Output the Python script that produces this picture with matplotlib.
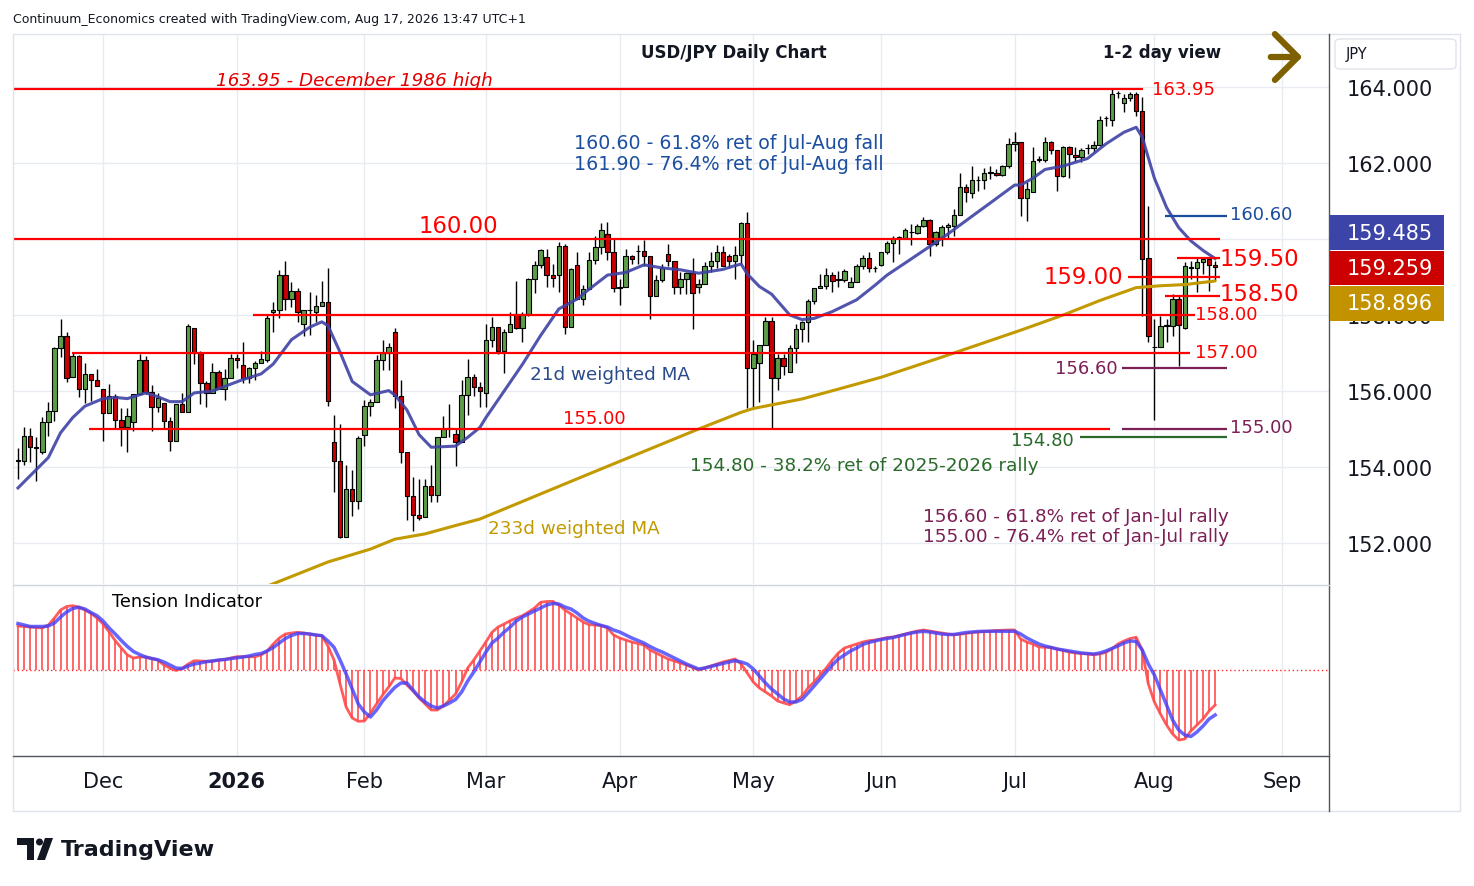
import numpy as np
import pandas as pd
import matplotlib
matplotlib.use("Agg")
import matplotlib.pyplot as plt
from matplotlib.patches import Rectangle, FancyBboxPatch, Polygon, Ellipse
from matplotlib.lines import Line2D

plt.rcParams['font.family'] = ['DejaVu Sans']

# trading days on the chart (weekdays, Christmas and New Year closed)
days = pd.bdate_range("2025-11-11", "2026-09-30")
days = days[~days.isin(pd.to_datetime(["2025-12-25", "2026-01-01"]))]

# USD/JPY daily candles, 11 Nov 2025 .. 17 Aug 2026
opens = [
    154.16, 154.15, 154.81, 154.51, 154.39, 155.18, 155.47, 157.13, 157.44, 156.38,
    156.91, 156.05, 156.46, 156.29, 156.05, 155.41, 155.87, 155.24, 155.04, 155.18,
    155.91, 156.81, 155.98, 155.57, 155.68, 155.20, 154.69, 155.66, 155.46, 157.67,
    157.00, 156.20, 155.96, 156.49, 156.05, 156.33, 156.86, 156.69, 156.33, 156.60,
    156.75, 156.82, 158.07, 158.12, 159.04, 158.42, 158.62, 157.76, 158.12, 158.09,
    158.23, 158.33, 154.65, 154.15, 152.17, 153.42, 153.10, 154.85, 155.60, 155.70,
    156.82, 156.99, 157.54, 155.86, 154.39, 153.23, 152.74, 152.68, 153.51, 153.26,
    154.78, 155.02, 154.87, 154.65, 155.90, 156.36, 156.10, 155.95, 157.34, 157.68,
    157.04, 157.54, 158.02, 157.65, 158.02, 158.95, 159.32, 159.52, 159.05, 159.05,
    159.81, 157.68, 159.32, 158.42, 158.68, 159.45, 159.78, 160.13, 159.67, 158.70,
    158.75, 159.56, 159.68, 159.68, 159.56, 158.51, 158.92, 159.60, 159.41, 158.75,
    158.95, 159.10, 158.73, 158.82, 159.30, 159.43, 159.65, 159.54, 159.41, 159.59,
    160.41, 156.60, 156.75, 157.21, 157.85, 156.33, 156.86, 156.51, 157.12, 157.63,
    157.82, 158.36, 158.70, 158.77, 159.06, 158.93, 158.92, 158.73, 158.86, 159.28,
    159.49, 159.23, 159.32, 159.65, 159.89, 160.03, 160.03, 160.18, 160.15, 160.33,
    160.51, 159.87, 160.02, 160.31, 160.35, 160.63, 161.36, 161.20, 161.55, 161.55,
    161.75, 161.75, 161.68, 161.91, 162.50, 162.54, 161.07, 161.23, 162.08, 162.08,
    162.54, 162.34, 161.67, 162.41, 162.21, 162.15, 162.39, 162.39, 162.47, 163.18,
    163.13, 163.83, 163.58, 163.71, 163.82, 163.36, 159.49, 157.15, 157.15, 157.72,
    157.72, 158.42, 157.67, 159.25, 159.25, 159.39, 159.47, 159.32,
]
highs = [
    154.49, 155.04, 155.02, 154.78, 155.31, 155.72, 157.17, 157.89, 157.56, 157.02,
    156.95, 156.73, 156.46, 156.58, 156.05, 156.18, 155.91, 155.54, 155.56, 155.91,
    156.97, 156.93, 156.16, 155.96, 155.68, 155.31, 155.66, 155.96, 157.76, 157.67,
    157.06, 156.27, 156.74, 156.54, 156.58, 156.97, 156.97, 157.30, 156.62, 156.80,
    157.06, 158.02, 158.33, 159.18, 159.43, 158.86, 158.70, 158.12, 158.60, 158.53,
    158.89, 159.24, 155.37, 155.13, 154.05, 153.92, 154.82, 155.77, 155.79, 156.95,
    157.35, 157.26, 157.65, 156.29, 154.39, 153.75, 153.68, 153.68, 154.05, 154.78,
    155.33, 155.66, 155.00, 156.29, 156.84, 156.45, 156.23, 157.76, 157.96, 157.68,
    157.63, 158.07, 158.90, 158.07, 158.97, 159.43, 159.74, 159.74, 159.34, 159.91,
    159.87, 159.25, 159.65, 158.79, 159.67, 160.07, 160.42, 160.44, 160.00, 158.95,
    159.74, 159.58, 159.83, 159.98, 159.56, 159.04, 159.34, 159.87, 159.43, 159.12,
    159.14, 159.49, 158.95, 159.39, 159.65, 159.84, 159.82, 159.60, 159.81, 160.46,
    160.70, 157.33, 157.21, 157.94, 157.94, 156.97, 156.97, 157.20, 157.76, 157.85,
    158.42, 158.70, 159.08, 159.25, 159.14, 159.17, 159.21, 159.00, 159.34, 159.58,
    159.65, 159.30, 159.65, 159.96, 160.07, 160.07, 160.28, 160.40, 160.40, 160.57,
    160.53, 160.22, 160.37, 160.42, 160.79, 161.75, 161.45, 161.91, 161.67, 161.86,
    161.93, 161.84, 161.95, 162.65, 162.81, 162.54, 161.49, 162.41, 162.18, 162.68,
    162.59, 162.34, 162.46, 162.46, 162.41, 162.39, 162.50, 162.59, 163.25, 163.23,
    163.96, 163.90, 163.82, 163.88, 163.88, 163.73, 160.88, 157.90, 157.98, 157.90,
    158.55, 158.53, 159.39, 159.43, 159.52, 159.52, 159.52, 159.43,
]
lows = [
    153.68, 154.05, 154.14, 153.64, 154.34, 154.82, 155.22, 156.89, 156.23, 156.38,
    155.83, 155.68, 155.75, 156.12, 154.69, 155.41, 155.00, 154.56, 154.39, 154.96,
    155.91, 155.91, 154.96, 155.46, 155.00, 154.43, 154.69, 155.46, 155.46, 156.71,
    155.66, 155.57, 155.95, 156.05, 155.77, 156.33, 156.60, 156.21, 156.21, 156.30,
    156.75, 156.77, 157.54, 157.91, 158.13, 158.20, 157.82, 157.44, 157.48, 157.82,
    158.23, 155.61, 153.33, 152.12, 152.17, 152.72, 152.90, 154.56, 155.33, 155.70,
    156.55, 156.55, 155.54, 154.10, 152.61, 152.32, 152.61, 152.68, 153.07, 153.09,
    154.78, 154.78, 154.02, 154.65, 155.38, 155.88, 155.57, 155.57, 157.15, 156.97,
    156.47, 157.54, 157.63, 157.30, 157.98, 158.58, 159.25, 158.75, 158.73, 158.60,
    157.50, 157.68, 158.42, 158.26, 158.68, 159.34, 159.60, 159.46, 158.60, 158.26,
    158.75, 159.34, 159.34, 159.30, 157.90, 158.51, 158.86, 159.30, 158.55, 158.55,
    158.55, 157.63, 158.58, 158.82, 159.12, 159.25, 159.28, 159.25, 158.95, 159.33,
    155.54, 155.53, 155.72, 157.21, 155.02, 156.03, 156.42, 156.51, 156.74, 157.30,
    157.30, 158.29, 158.70, 158.68, 158.60, 158.73, 158.86, 158.73, 158.86, 159.21,
    159.12, 159.12, 159.30, 159.60, 159.39, 159.60, 160.03, 159.85, 160.13, 160.31,
    159.54, 159.82, 159.82, 160.02, 160.09, 160.63, 160.98, 161.08, 161.27, 161.32,
    161.58, 161.67, 161.67, 161.86, 162.32, 160.61, 160.48, 161.23, 162.02, 162.02,
    162.24, 161.27, 161.62, 161.60, 162.06, 162.02, 162.24, 162.30, 162.46, 162.98,
    162.98, 163.70, 163.33, 163.64, 163.23, 157.98, 157.28, 155.25, 157.15, 157.30,
    157.46, 156.67, 157.63, 158.95, 158.60, 159.08, 158.64, 158.91,
]
closes = [
    154.16, 154.81, 154.52, 154.51, 155.18, 155.47, 157.13, 157.44, 156.33, 156.91,
    156.05, 156.46, 156.29, 156.12, 155.41, 155.87, 155.24, 155.04, 155.33, 155.91,
    156.81, 155.98, 155.57, 155.81, 155.20, 154.69, 155.66, 155.46, 157.70, 157.00,
    156.20, 155.96, 156.49, 156.05, 156.33, 156.86, 156.82, 156.33, 156.60, 156.75,
    156.84, 157.91, 158.12, 159.04, 158.42, 158.62, 158.07, 158.12, 158.12, 158.23,
    158.33, 155.74, 154.15, 152.17, 153.42, 153.10, 154.76, 155.60, 155.70, 156.82,
    156.99, 157.17, 155.86, 154.39, 153.23, 152.74, 152.65, 153.51, 153.26, 154.78,
    155.00, 155.02, 154.65, 155.90, 156.36, 156.10, 156.01, 157.34, 157.68, 157.04,
    157.54, 157.76, 157.65, 158.02, 158.95, 159.32, 159.71, 159.05, 158.97, 159.81,
    157.68, 159.21, 158.42, 158.68, 159.45, 159.78, 160.24, 159.67, 158.70, 158.75,
    159.56, 159.47, 159.68, 159.56, 158.51, 158.92, 159.24, 159.41, 158.75, 158.95,
    159.10, 158.58, 158.82, 159.30, 159.43, 159.65, 159.28, 159.41, 159.59, 160.41,
    156.60, 156.97, 157.21, 157.85, 156.33, 156.86, 156.65, 157.12, 157.63, 157.82,
    158.36, 158.70, 158.77, 159.06, 158.89, 158.93, 159.17, 158.86, 159.28, 159.49,
    159.23, 159.23, 159.65, 159.89, 160.03, 160.03, 160.25, 160.18, 160.33, 160.51,
    159.87, 160.18, 160.31, 160.37, 160.63, 161.36, 161.23, 161.55, 161.55, 161.75,
    161.75, 161.68, 161.91, 162.50, 162.54, 161.07, 161.32, 162.04, 162.08, 162.54,
    162.34, 161.65, 162.41, 162.24, 162.15, 162.35, 162.39, 162.47, 163.13, 163.18,
    163.82, 163.83, 163.71, 163.82, 163.36, 159.47, 157.46, 157.15, 157.70, 157.72,
    158.42, 157.74, 159.28, 159.25, 159.39, 159.47, 159.32, 159.259,
]

# moving averages (bar number, value)
ma21_bars = [0, 5, 7, 9, 11, 14, 16, 18, 21, 23, 25, 27, 29, 32, 34, 37, 40, 42, 45, 48,
             50, 51, 53, 55, 58, 61, 62, 64, 66, 68, 72, 74, 76, 77, 80, 83, 86, 89, 92, 94,
             97, 100, 103, 106, 109, 112, 116, 118, 119, 120, 122, 124, 127, 129, 131, 134,
             138, 141, 143, 146, 150, 153, 157, 160, 164, 165, 167, 169, 172, 176, 179, 182,
             184, 185, 187, 189, 191, 193, 195, 197]
ma21_vals = [153.45, 154.25, 154.9, 155.3, 155.6, 155.8, 155.83, 155.8, 155.95, 155.85,
             155.72, 155.72, 155.95, 156.0, 156.12, 156.3, 156.45, 156.71, 157.35, 157.68,
             157.82, 157.72, 157.02, 156.25, 155.9, 156.01, 155.9, 155.5, 154.85, 154.52,
             154.55, 154.78, 155.04, 155.3, 156.0, 156.7, 157.46, 158.16, 158.42, 158.68,
             159.05, 159.12, 159.32, 159.24, 159.19, 159.1, 159.2, 159.3, 159.34, 159.08,
             158.75, 158.55, 158.0, 157.88, 157.91, 158.09, 158.4, 158.78, 159.05, 159.37,
             159.8, 160.13, 160.6, 160.95, 161.42, 161.42, 161.6, 161.83, 161.92, 162.12,
             162.5, 162.81, 162.94, 162.68, 161.6, 160.83, 160.3, 159.95, 159.7, 159.485]
ma233_bars = [40, 51, 58, 62, 67, 72, 76, 94, 112, 119, 121, 129, 135, 142, 152, 165, 172,
              178, 184, 188, 192, 197]
ma233_vals = [150.8, 151.5, 151.84, 152.1, 152.24, 152.46, 152.63, 153.82, 155.0, 155.44,
              155.54, 155.79, 156.05, 156.36, 156.89, 157.6, 158.0, 158.38, 158.72, 158.77,
              158.8, 158.896]

# Tension Indicator (histogram and signal line)
tension = [
    44, 43.5, 43, 42.5, 42, 45, 52, 60, 63.5, 64.3,
    63, 60, 56.7, 52, 46, 38, 29.3, 22, 15, 12,
    13, 13, 11.5, 10, 5, 2, -0.5, 1.5, 6, 9.3,
    9, 8.7, 9, 9.7, 10.5, 12, 13.3, 13.3, 13.3, 13.3,
    15, 19, 26, 32, 36, 37, 37.7, 37, 36, 35,
    34.3, 24, 10, -14, -37, -48, -51.3, -51, -43, -34,
    -25, -17, -8, -8.5, -15, -21, -28, -34, -40, -40,
    -36, -30, -24, -12, 2, 10, 19, 28, 37.7, 43,
    46, 49.3, 52, 54.3, 58, 62, 67.7, 68.5, 68.7, 65,
    60, 56, 52, 48, 45.3, 45, 44.5, 42, 35, 32,
    30, 28, 26.5, 25, 20, 17, 14, 11, 9, 7,
    5, 2.5, 0, 2, 4, 6, 8, 9.5, 11, 6,
    -3, -12, -18, -22, -26, -31, -33, -34.7, -31, -26,
    -18, -12, -5, 2, 10, 17, 22, 24, 26, 28,
    29.3, 30, 31, 32.5, 33, 34.5, 36, 37.5, 39, 40,
    39, 38, 37, 36, 35.3, 35.8, 36.5, 37.5, 38, 38.5,
    39, 39.5, 39.8, 40, 40, 31, 28, 26, 23, 22.7,
    22.7, 21, 19.5, 18, 17, 16.5, 16, 15.3, 16, 17.7,
    21, 26, 29, 31.5, 32.7, 20, -14, -32, -44, -55,
    -64, -70, -69, -61, -55, -49, -41, -35,
]
tension_sig = [
    46.5, 45, 43.5, 43.5, 43.5, 44, 47, 53, 58, 61.5,
    62.7, 61, 57.5, 54.3, 49, 42, 36, 29.5, 23.5, 18.5,
    15.5, 13, 11.5, 10.3, 8, 5, 2, 1.5, 4, 6,
    7, 8.3, 9, 10, 10.5, 11.3, 12, 13, 14, 15.5,
    16.5, 19, 22.5, 27, 31.5, 34.5, 36.5, 36.5, 36, 35,
    34.3, 29, 22.7, 10, -4, -19, -34, -42, -47, -40,
    -31, -24, -17.5, -13, -13, -20, -27, -32, -36, -38,
    -36, -33, -29.5, -22, -11, -2, 8, 18, 27, 32,
    38, 43, 49, 53, 56, 59, 62, 65, 66.5, 66,
    63, 61, 57, 52, 48.7, 46.5, 44.5, 43, 40, 38,
    35, 32, 29.5, 27, 23.5, 20.5, 18, 15, 12, 9,
    6, 3.5, 1, 2, 3.5, 5, 6.5, 8, 9.3, 8,
    6, 1, -6, -13, -19, -24, -29, -32, -32, -29.5,
    -23, -16, -9, -2, 5, 11, 15, 19, 22, 25.5,
    27.5, 29, 30.5, 31.5, 32.5, 34, 35.5, 37, 38, 38.7,
    38, 37, 36, 35.5, 35.5, 36.5, 37.5, 38, 38.5, 38.7,
    38.7, 38.7, 38.7, 38.7, 38.7, 36, 32, 29, 26, 24,
    22.5, 21, 20, 19, 18, 17, 16.5, 16, 17, 19,
    21.5, 24, 27, 29, 28.5, 20, 6, -5, -20, -35,
    -50, -60, -65, -66.5, -62, -56, -49, -45,
]

# ---------------------------------------------------------------
W, H = 1474, 887
X0, BW = 18.0, 6.077          # pixel of first bar, pixels per bar


def fx(px):
    return px / W


def fy(py):
    return 1 - py / H


def bx(px):
    return (px - X0) / BW


n = len(closes)
x = np.arange(n)
o = np.array(opens)
c = np.array(closes)
hi = np.array(highs)
lo = np.array(lows)

# month ticks: first bar of each month
months = pd.Series(np.arange(len(days)), index=days)
first = months.groupby([days.year, days.month]).min()
tick_pos, tick_lab = [], []
for (yr, mo), idx in first.items():
    if idx == 0:
        continue
    tick_pos.append(idx)
    tick_lab.append(str(yr) if mo == 1 else pd.Timestamp(yr, mo, 1).strftime("%b"))

fig = plt.figure(figsize=(W / 100, H / 100), dpi=100)
fig.patch.set_facecolor("white")

ax = fig.add_axes([fx(13), fy(585), fx(1329) - fx(13), fy(35) - fy(585)])
ax2 = fig.add_axes([fx(13), fy(757), fx(1329) - fx(13), fy(587) - fy(757)])

grid_c = "#e8ecf1"
txt_c = "#131722"

# ---- price panel ----
yt = [152, 154, 156, 158, 160, 162, 164]
ax.set_xlim(bx(13), bx(1329))
ax.set_ylim(150.921, 165.395)
ax.set_xticks(tick_pos)
ax.set_yticks(yt)
# 160.000 sits fully under the MA value box on the scale, so it is left blank
ax.set_yticklabels(["" if v == 160 else f"{v:.3f}" for v in yt])
ax.yaxis.tick_right()
ax.tick_params(axis="y", length=0, pad=13, labelsize=15, colors=txt_c)
ax.tick_params(axis="x", length=0, labelbottom=False)
ax.grid(True, color=grid_c, lw=1)
ax.set_axisbelow(True)
for s in ax.spines.values():
    s.set_visible(False)

up = c >= o
ax.vlines(x, lo, hi, color="black", lw=1, zorder=3)
ax.bar(x, np.maximum(np.abs(c - o), 0.015), bottom=np.minimum(o, c), width=0.74,
       color=np.where(up, "#5b9e47", "#cc0000"), edgecolor="black", lw=0.8, zorder=4)

ax.plot(ma233_bars, ma233_vals, color="#c29a00", lw=2.2, zorder=5, solid_capstyle="round")
ax.plot(ma21_bars, ma21_vals, color="#3f42a4", lw=2.2, alpha=0.9, zorder=5)

red = "#ff0000"
levels = [
    (163.95, 13, 1143, red), (160.00, 13, 1220, red), (158.00, 253, 1195, red),
    (157.00, 72, 1190, red), (155.00, 89, 1110, red), (159.50, 1177, 1220, red),
    (159.00, 1128, 1220, red), (158.50, 1165, 1220, red), (160.60, 1165, 1227, "#1a4d9e"),
    (156.60, 1122, 1227, "#7b1f55"), (155.00, 1122, 1227, "#7b1f55"),
    (154.80, 1080, 1227, "#2a6a2a"),
]
for lvl, x1, x2, col in levels:
    ax.hlines(lvl, bx(x1), bx(x2), color=col, lw=1.6, zorder=6)

# ---- tension panel ----
ax2.set_xlim(bx(13), bx(1329))
ax2.set_ylim(-86, 84)
ax2.set_yticks([])
ax2.set_xticks(tick_pos)
ax2.set_xticklabels(tick_lab)
ax2.tick_params(axis="x", length=0, pad=11, labelsize=15, colors=txt_c)
for lab in ax2.get_xticklabels():
    if lab.get_text().isdigit():
        lab.set_fontweight("bold")
ax2.grid(True, axis="x", color=grid_c, lw=1)
ax2.set_axisbelow(True)
for s in ax2.spines.values():
    s.set_visible(False)
ax2.axhline(0, color="#ff2a2a", lw=1, ls=(0, (1, 2)), zorder=2)
ax2.vlines(x, 0, tension, color="#ff4a4a", lw=1.3, alpha=0.9, zorder=3)
ax2.plot(x, tension, color="#ff4a4a", lw=2, alpha=0.9, zorder=4)
ax2.plot(x, tension_sig, color="#4040ff", lw=2.5, alpha=0.8, zorder=5)

# ---- frame lines ----
fig.add_artist(Rectangle((fx(13), fy(812)), fx(1460) - fx(13), fy(35) - fy(812),
                         transform=fig.transFigure, fill=False, ec="#e0e3eb", lw=1))
fig.add_artist(Line2D([fx(1329)] * 2, [fy(35), fy(812)], color="#50535e", lw=1))
fig.add_artist(Line2D([fx(13), fx(1329)], [fy(757)] * 2, color="#50535e", lw=1))
fig.add_artist(Line2D([fx(13), fx(1329)], [fy(586)] * 2, color="#d1d4dc", lw=1))

# ---- texts ----
fig.text(fx(13), fy(19), "Continuum_Economics created with TradingView.com, Aug 17, 2026 13:47 UTC+1",
         fontsize=9, color=txt_c, va="center")
fig.text(fx(734), fy(53), "USD/JPY Daily Chart", fontsize=12, weight="bold", color=txt_c,
         ha="center", va="center")
fig.text(fx(1162), fy(53), "1-2 day view", fontsize=12, weight="bold", color=txt_c,
         ha="center", va="center")
fig.add_artist(matplotlib.patches.FancyArrowPatch(
    (fx(1268), fy(58)), (fx(1305), fy(58)), transform=fig.transFigure,
    arrowstyle="->,head_length=0.55,head_width=0.55", mutation_scale=30,
    lw=4.5, color="#7f6000", capstyle="round", joinstyle="round"))

fig.text(fx(216), fy(81), "163.95 - December 1986 high", fontsize=13.2, style="italic",
         color="#e00000", va="center")
fig.text(fx(574), fy(144), "160.60 - 61.8% ret of Jul-Aug fall", fontsize=13.7,
         color="#1c4fa0", va="center")
fig.text(fx(574), fy(164), "161.90 - 76.4% ret of Jul-Aug fall", fontsize=13.7,
         color="#1c4fa0", va="center")
fig.text(fx(530), fy(375), "21d weighted MA", fontsize=13.2, color="#2b4b8c", va="center")
fig.text(fx(488), fy(529), "233d weighted MA", fontsize=13.2, color="#c29a00", va="center")
fig.text(fx(690), fy(466), "154.80 - 38.2% ret of 2025-2026 rally", fontsize=13.2,
         color="#2a6a2a", va="center")
fig.text(fx(1229), fy(517), "156.60 - 61.8% ret of Jan-Jul rally", fontsize=13.2,
         color="#7b1f55", va="center", ha="right")
fig.text(fx(1229), fy(537), "155.00 - 76.4% ret of Jan-Jul rally", fontsize=13.2,
         color="#7b1f55", va="center", ha="right")

big = 16.4
fig.text(fx(458), fy(227), "160.00", fontsize=big, color=red, ha="center", va="center")
fig.text(fx(1220), fy(259), "159.50", fontsize=big, color=red, va="center")
fig.text(fx(1044), fy(278), "159.00", fontsize=big, color=red, va="center")
fig.text(fx(1220), fy(295), "158.50", fontsize=big, color=red, va="center")
fig.text(fx(1152), fy(90), "163.95", fontsize=13, color=red, va="center")
fig.text(fx(1195), fy(315), "158.00", fontsize=13, color=red, va="center")
fig.text(fx(1195), fy(353), "157.00", fontsize=13, color=red, va="center")
fig.text(fx(594), fy(419), "155.00", fontsize=13, color=red, ha="center", va="center")
fig.text(fx(1230), fy(215), "160.60", fontsize=13, color="#1a4d9e", va="center")
fig.text(fx(1055), fy(369), "156.60", fontsize=13, color="#7b1f55", va="center")
fig.text(fx(1230), fy(428), "155.00", fontsize=13, color="#7b1f55", va="center")
fig.text(fx(1011), fy(441), "154.80", fontsize=13, color="#2a6a2a", va="center")

fig.text(fx(112), fy(602), "Tension Indicator", fontsize=12.7, color="black", va="center")

# ---- right scale boxes ----
fig.add_artist(FancyBboxPatch((fx(1335), fy(70)), fx(1456) - fx(1335), fy(40) - fy(70),
                              boxstyle="round,pad=0,rounding_size=0.004",
                              transform=fig.transFigure, fc="white", ec="#e0e3eb", lw=1))
fig.text(fx(1346), fy(55), "JPY", fontsize=10.5, color=txt_c, va="center")
boxes = [(ma21_vals[-1], 216, 251, "#3c44a8"), (closes[-1], 252, 286, "#cc0000"),
         (ma233_vals[-1], 287, 322, "#c29200")]
for val, y1, y2, col in boxes:
    fig.add_artist(Rectangle((fx(1330), fy(y2)), fx(1444) - fx(1330), fy(y1) - fy(y2),
                             transform=fig.transFigure, fc=col, ec="none", zorder=10))
    fig.text(fx(1347), fy((y1 + y2) / 2), f"{val:.3f}", fontsize=15, color="white",
             va="center", zorder=11)

# ---- TradingView logo ----
fig.add_artist(Polygon([(fx(17), fy(839)), (fx(34), fy(839)), (fx(34), fy(861)),
                        (fx(27), fy(861)), (fx(27), fy(846)), (fx(17), fy(846))],
                       closed=True, transform=fig.transFigure, fc=txt_c, ec="none"))
fig.add_artist(Ellipse((fx(39.5), fy(843)), 7 / W, 7 / H, transform=fig.transFigure,
                       fc=txt_c, ec="none"))
fig.add_artist(Polygon([(fx(45), fy(839)), (fx(53), fy(839)), (fx(45), fy(861)),
                        (fx(37), fy(861))],
                       closed=True, transform=fig.transFigure, fc=txt_c, ec="none"))
fig.text(fx(61), fy(850), "TradingView", fontsize=16, weight="bold", color=txt_c, va="center")

fig.savefig("out.png", dpi=100, facecolor="white")
